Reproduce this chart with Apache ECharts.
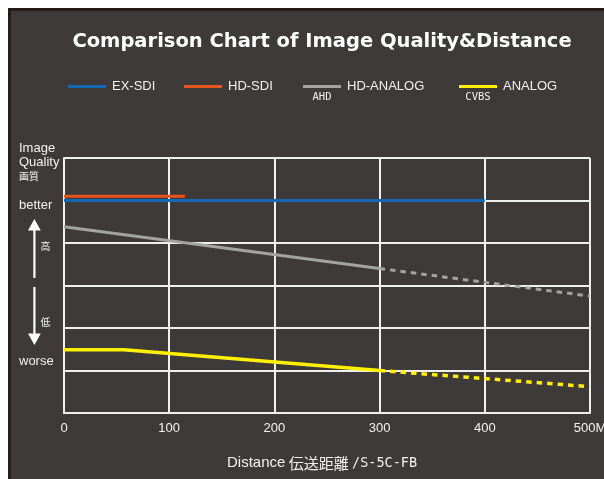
<!DOCTYPE html>
<html>
<head>
<meta charset="utf-8">
<script src="https://cdn.jsdelivr.net/npm/echarts@6/dist/echarts.min.js"></script>
<style>
  html, body { margin: 0; padding: 0; background: #ffffff; width: 604px; height: 479px; overflow: hidden; }
  #bg { position: absolute; left: 8px; top: 8px; width: 593px; height: 468px; background: #3e3a39;
        border-left: 3px solid #261d1b; border-top: 3px solid #261d1b; }
  #chart { position: absolute; left: 0; top: 0; width: 604px; height: 479px; }
</style>
</head>
<body>
<div id="bg"></div>
<div id="chart"></div>
<script>
// ---- data ----
const titleText = 'Comparison Chart of Image Quality&Distance';
const seriesNames = ['EX-SDI', 'HD-SDI', 'HD-ANALOG', 'ANALOG'];
const subLabels = ['', '', 'AHD', 'CVBS'];
const xTickValues = [0, 100, 200, 300, 400, 500];
const xTickLabels = ['0', '100', '200', '300', '400', '500M'];
// quality scale 0 (worse) .. 6 (better)
const exSdi = [[0, 5.0], [400, 5.0]];
const hdSdi = [[0, 5.1], [115, 5.1]];
const hdAnalogSolid = [[0, 4.38], [300, 3.40]];
const hdAnalogDashed = [[300, 3.40], [500, 2.75]];
const analogSolid = [[0, 1.49], [57, 1.49], [300, 1.0]];
const analogDashed = [[300, 1.0], [500, 0.62]];

const colors = { 'EX-SDI': '#1369b4', 'HD-SDI': '#e8541e', 'HD-ANALOG': '#a3a3a3', 'ANALOG': '#fff100' };
const txt = '#f2f2f2';

const chart = echarts.init(document.getElementById('chart'), null, { renderer: 'canvas' });

function lineSeries(name, data, dashed, width, z) {
  return {
    name: name, type: 'line', data: data, symbol: 'none', silent: true, z: z,
    itemStyle: { color: colors[name] },
    lineStyle: { color: colors[name], width: width, type: dashed ? [5.5, 5] : 'solid', cap: 'butt' }
  };
}

const legendLefts = [68, 184, 303, 459];
const legends = seriesNames.map((n, i) => ({
  data: [n], left: legendLefts[i], top: 80, padding: 0, icon: 'rect', itemWidth: 38, itemHeight: 3,
  selectedMode: false,
  textStyle: { color: txt, fontSize: 13, fontFamily: 'Liberation Sans, Arial, sans-serif', padding: [0, 0, 0, 1] }
}));

const sans = 'Liberation Sans, Arial, sans-serif';
const cjk = '"Noto Sans CJK JP", sans-serif';
const graphics = [
  { type: 'text', x: 322, y: 42, style: { text: titleText, align: 'center', verticalAlign: 'middle',
      fill: '#ffffff', font: 'bold 19.5px "DejaVu Sans", sans-serif' } },
  { type: 'text', x: 322, y: 97, style: { text: subLabels[2], align: 'center', verticalAlign: 'middle',
      fill: txt, font: '10.5px "DejaVu Sans Mono", monospace' } },
  { type: 'text', x: 478, y: 97, style: { text: subLabels[3], align: 'center', verticalAlign: 'middle',
      fill: txt, font: '10.5px "DejaVu Sans Mono", monospace' } },
  { type: 'text', x: 19, y: 148, style: { text: 'Image', verticalAlign: 'middle', fill: txt, font: '13px ' + sans } },
  { type: 'text', x: 19, y: 162, style: { text: 'Quality', verticalAlign: 'middle', fill: txt, font: '13px ' + sans } },
  { type: 'text', x: 19, y: 176, style: { text: '画質', verticalAlign: 'middle', fill: txt, font: '10px ' + cjk } },
  { type: 'text', x: 19, y: 205, style: { text: 'better', verticalAlign: 'middle', fill: txt, font: '13px ' + sans } },
  { type: 'text', x: 19, y: 361, style: { text: 'worse', verticalAlign: 'middle', fill: txt, font: '13px ' + sans } },
  { type: 'text', x: 45.5, y: 246, style: { text: '高', align: 'center', verticalAlign: 'middle', fill: txt, font: '10px ' + cjk } },
  { type: 'text', x: 45.5, y: 322, style: { text: '低', align: 'center', verticalAlign: 'middle', fill: txt, font: '10px ' + cjk } },
  // arrows
  { type: 'rect', shape: { x: 33.3, y: 228, width: 2.2, height: 50 }, style: { fill: '#ffffff' } },
  { type: 'polygon', shape: { points: [[34.4, 219], [28, 230.5], [40.8, 230.5]] }, style: { fill: '#ffffff' } },
  { type: 'rect', shape: { x: 33.3, y: 287, width: 2.2, height: 50 }, style: { fill: '#ffffff' } },
  { type: 'polygon', shape: { points: [[34.4, 345], [28, 333.5], [40.8, 333.5]] }, style: { fill: '#ffffff' } },
  // x axis name
  { type: 'text', x: 322, y: 463, style: {
      text: '{a|Distance} {b|伝送距離} {c|/S-5C-FB}', align: 'center', verticalAlign: 'middle', fill: txt,
      rich: {
        a: { fontSize: 15, fontFamily: sans, fill: txt },
        b: { fontSize: 15, fontFamily: cjk, fill: txt },
        c: { fontSize: 13.5, fontFamily: '"DejaVu Sans Mono", monospace', fill: txt }
      } } }
];

chart.setOption({
  backgroundColor: 'transparent',
  animation: false,
  legend: legends,
  graphic: graphics,
  grid: { left: 64, right: 14, top: 158, bottom: 66, containLabel: false, outerBoundsMode: 'none' },
  xAxis: {
    type: 'value', min: 0, max: 500, interval: 100,
    axisLine: { show: true, lineStyle: { color: '#f0f0f0', width: 2 } },
    axisTick: { show: false },
    splitLine: { show: true, lineStyle: { color: '#f0f0f0', width: 2 } },
    axisLabel: {
      color: txt, fontSize: 13, fontFamily: sans, margin: 9, hideOverlap: false,
      formatter: v => { const i = xTickValues.indexOf(v); return i >= 0 ? xTickLabels[i] : ''; }
    }
  },
  yAxis: {
    type: 'value', min: 0, max: 6, interval: 1,
    axisLine: { show: true, lineStyle: { color: '#f0f0f0', width: 2 } },
    axisTick: { show: false },
    axisLabel: { show: false },
    splitLine: { show: true, lineStyle: { color: '#f0f0f0', width: 2 } }
  },
  series: [
    lineSeries('EX-SDI', exSdi, false, 3, 3),
    lineSeries('HD-SDI', hdSdi, false, 3, 4),
    lineSeries('HD-ANALOG', hdAnalogSolid, false, 3, 3),
    lineSeries('HD-ANALOG', hdAnalogDashed, true, 3, 3),
    lineSeries('ANALOG', analogSolid, false, 3.5, 3),
    lineSeries('ANALOG', analogDashed, true, 3.5, 3)
  ]
});
</script>
</body>
</html>
